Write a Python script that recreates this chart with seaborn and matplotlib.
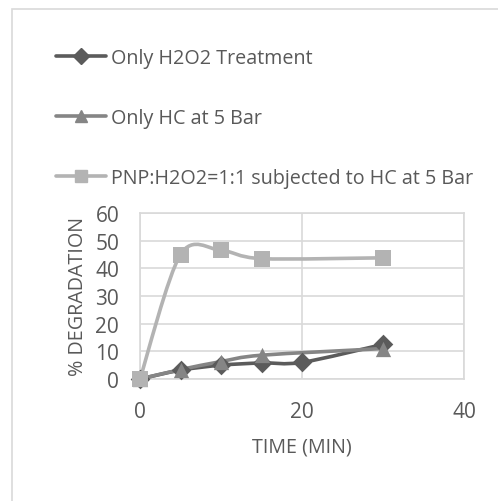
import numpy as np
import pandas as pd
import matplotlib
matplotlib.use("Agg")
import matplotlib.pyplot as plt
import seaborn as sns
from matplotlib.path import Path
from matplotlib.patches import PathPatch, Rectangle
from matplotlib.lines import Line2D

# ---- data ----
time_h2o2 = [0, 5, 10, 15, 20, 30]
deg_h2o2 = [0, 3.2, 5.0, 5.8, 6.0, 12.5]
time_hc = [0, 5, 10, 15, 30]
deg_hc = [0, 3.4, 6.3, 8.6, 11.0]
time_pnp = [0, 5, 10, 15, 30]
deg_pnp = [0, 45.0, 46.5, 43.5, 43.8]

labels = ["Only H2O2 Treatment", "Only HC at 5 Bar",
          "PNP:H2O2=1:1 subjected to HC at 5 Bar"]
colors = ["#5b5b5b", "#858585", "#b3b3b3"]
markers = ["D", "^", "s"]
msizes = [10, 11, 11]

sns.set_theme(style="white")
plt.rcParams['font.family'] = ['Open Sans', 'DejaVu Sans']
txt = "#595959"

fig = plt.figure(figsize=(4.98, 5.02), dpi=100)
fig.patches.append(Rectangle((12/498, -0.01), 1.0, 1 - 10/502 + 0.01,
                             transform=fig.transFigure, fill=False,
                             edgecolor="#d9d9d9", linewidth=1.2))
ax = fig.add_axes([140/498, 122/502, 324/498, 166/502])

def smooth_path(xs, ys):
    pts = np.column_stack([xs, ys]).astype(float)
    n = len(pts)
    verts = [pts[0]]
    codes = [Path.MOVETO]
    for i in range(n - 1):
        p0 = pts[i - 1] if i > 0 else pts[i]
        p1 = pts[i]
        p2 = pts[i + 1]
        p3 = pts[i + 2] if i + 2 < n else pts[i + 1]
        c1 = p1 + (p2 - p0) / 6.5
        c2 = p2 - (p3 - p1) / 6.5
        verts += [c1, c2, p2]
        codes += [Path.CURVE4] * 3
    return Path(verts, codes)

series = [(time_h2o2, deg_h2o2), (time_hc, deg_hc), (time_pnp, deg_pnp)]
frames = []
for (t, d), lab in zip(series, labels):
    frames.append(pd.DataFrame({"time": t, "deg": d, "series": lab}))
df = pd.concat(frames)

for (t, d), c in zip(series, colors):
    ax.add_patch(PathPatch(smooth_path(t, d), facecolor="none",
                           edgecolor=c, linewidth=2.6, zorder=3, clip_on=False))

for lab, c, m, ms in zip(labels, colors, markers, msizes):
    sub = df[df.series == lab]
    sns.scatterplot(data=sub, x="time", y="deg", ax=ax, color=c, marker=m,
                    s=ms**2, edgecolor=c, linewidth=0, zorder=4, legend=False)
for coll in ax.collections:
    coll.set_clip_on(False)

ax.set_xlim(0, 40)
ax.set_ylim(0, 60)
ax.set_xticks([0, 20, 40])
ax.set_yticks(range(0, 61, 10))
ax.grid(True, color="#d9d9d9", linewidth=1.2)
for s in ax.spines.values():
    s.set_color("#d9d9d9")
    s.set_linewidth(1.2)
ax.tick_params(axis="y", length=0, labelsize=15, colors=txt, pad=15)
ax.tick_params(axis="x", length=0, labelsize=15, colors=txt, pad=16)
ax.set_xlabel("TIME (MIN)", fontsize=14.2, color=txt, labelpad=10)
ax.set_ylabel("% DEGRADATION", fontsize=14.2, color=txt, labelpad=5)
ax.set_axisbelow(True)

handles = [Line2D([0], [0], color=c, marker=m, markersize=ms * 0.85, linewidth=2.6)
           for c, m, ms in zip(colors, markers, msizes)]
leg = fig.legend(handles, labels, loc="upper left",
                 bbox_to_anchor=(56/498, 1 - 49/502), frameon=False,
                 fontsize=14.2, handlelength=2.55, handletextpad=0.25,
                 labelspacing=2.02, borderaxespad=0, borderpad=0)
for t in leg.get_texts():
    t.set_color(txt)

fig.savefig("out.png", dpi=100)
